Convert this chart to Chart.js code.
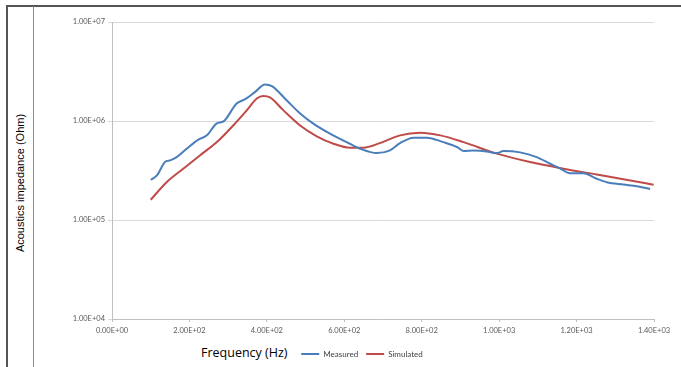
<!DOCTYPE html>
<html>
<head>
<meta charset="utf-8">
<script src="https://cdn.jsdelivr.net/npm/chart.js@4"></script>
<style>
  html, body { margin:0; padding:0; background:#fff; }
  body { width:681px; height:367px; position:relative; overflow:hidden; }
  .frame-top { position:absolute; left:6px; top:5px; width:675px; height:0; border-top:2px solid #555; }
  .frame-left { position:absolute; left:6px; top:5px; width:0; height:362px; border-left:2px solid #555; }
  .frame-inner { position:absolute; left:33px; top:6px; width:0; height:361px; border-left:1px solid #888; }
  #yTitle { position:absolute; left:20px; top:183px; transform:translate(-50%,-50%) rotate(-90deg);
    font-family:"Liberation Sans", Arial, sans-serif; font-size:11px; color:#000; white-space:nowrap; }
  #xTitle { position:absolute; left:201px; top:344px; font-family:"Open Sans", sans-serif; font-size:12.5px; color:#000; }
  #wrap { position:absolute; left:34px; top:7px; width:647px; height:360px; }
</style>
</head>
<body>
<div class="frame-top"></div>
<div class="frame-left"></div>
<div class="frame-inner"></div>
<div id="yTitle">Acoustics impedance (Ohm)</div>
<div id="xTitle">Frequency (Hz)</div>
<div id="wrap"><canvas id="impChart"></canvas></div>
<script>
// Data
const seriesNames = ["Measured", "Simulated"];

const freqMeasured = [100,116,137,150,167,193,223,245,270,288,322,344,370,395,413,451,486,520,563,615,641,684,718,744,779,813,856,891,908,934,968,994,1011,1054,1097,1132,1158,1183,1218,1252,1278,1321,1356,1390];
const impMeasured  = [2.55e5,2.82e5,3.85e5,4.0e5,4.32e5,5.25e5,6.48e5,7.16e5,9.4e5,9.9e5,1.50e6,1.66e6,1.97e6,2.34e6,2.25e6,1.62e6,1.19e6,9.4e5,7.45e5,5.87e5,5.25e5,4.74e5,5.05e5,5.98e5,6.79e5,6.79e5,6.12e5,5.46e5,4.97e5,5.03e5,4.93e5,4.74e5,4.97e5,4.82e5,4.32e5,3.70e5,3.30e5,2.97e5,2.97e5,2.61e5,2.41e5,2.28e5,2.19e5,2.06e5];

const freqSimulated = [100,141,184,227,271,313,348,374,391,408,443,486,529,572,615,649,692,744,796,848,908,994,1080,1166,1252,1339,1399];
const impSimulated  = [1.60e5,2.41e5,3.30e5,4.49e5,6.12e5,9.0e5,1.28e6,1.69e6,1.79e6,1.73e6,1.28e6,9.0e5,7.0e5,5.9e5,5.37e5,5.37e5,5.98e5,7.16e5,7.62e5,7.16e5,6.12e5,4.68e5,3.85e5,3.30e5,2.88e5,2.51e5,2.27e5];

const xTicks = [0,200,400,600,800,1000,1200,1400];
const yTicks = [1e4,1e5,1e6,1e7];

const colors = ["#4a7ebb", "#be4b48"];

// Excel style scientific label, e.g. 1.00E+07
function sci(v){
  if (v === 0) return "0.00E+00";
  const [m, e] = v.toExponential(2).toUpperCase().split("E");
  const n = parseInt(e, 10);
  return m + "E" + (n < 0 ? "-" : "+") + String(Math.abs(n)).padStart(2, "0");
}

const toPoints = (xs, ys) => xs.map((x, i) => ({x:x, y:ys[i]}));

const tickFont = { family:"Lato, 'Open Sans', sans-serif", size:7.5 };

// legend sits beside the axis title, a bit right of centre
const legendShift = {
  id:'legendShift',
  afterLayout(chart){
    const l = chart.legend;
    l.left += 18; l.right += 18;
    l.top += 3; l.bottom += 3;
  }
};

new Chart(document.getElementById("impChart"), {
  type:'line',
  data:{
    datasets:[
      { label:seriesNames[0], data:toPoints(freqMeasured, impMeasured), borderColor:colors[0], backgroundColor:colors[0],
        borderWidth:2, pointRadius:0, fill:false, cubicInterpolationMode:'monotone' },
      { label:seriesNames[1], data:toPoints(freqSimulated, impSimulated), borderColor:colors[1], backgroundColor:colors[1],
        borderWidth:2, pointRadius:0, fill:false, cubicInterpolationMode:'monotone' }
    ]
  },
  options:{
    responsive:true,
    maintainAspectRatio:false,
    animation:false,
    layout:{ padding:{ top:15, right:27, left:0, bottom:2 } },
    scales:{
      x:{
        type:'linear', min:0, max:1400,
        afterBuildTicks: s => { s.ticks = xTicks.map(v => ({value:v})); },
        ticks:{ callback: v => sci(v), font:tickFont, color:'#595959', maxRotation:0, padding:4 },
        grid:{ drawOnChartArea:false, tickLength:3, color:'#bfbfbf' },
        border:{ color:'#bfbfbf' }
      },
      y:{
        type:'logarithmic', min:1e4, max:1e7,
        afterBuildTicks: s => { s.ticks = yTicks.map(v => ({value:v})); },
        afterFit: s => { s.width = 78; },
        ticks:{ callback: v => sci(v), font:tickFont, color:'#595959', padding:3 },
        grid:{ color:'#d9d9d9', tickLength:4 },
        border:{ color:'#bfbfbf' }
      }
    },
    plugins:{
      legend:{
        position:'bottom',
        labels:{
          boxWidth:18, boxHeight:2, padding:8,
          font:{ family:"Lato, 'Open Sans', sans-serif", size:8 }, color:'#404040',
          generateLabels: chart => chart.data.datasets.map((d, i) => ({
            text:d.label, fillStyle:d.borderColor, strokeStyle:d.borderColor, lineWidth:0,
            hidden:false, datasetIndex:i, fontColor:'#404040'
          }))
        }
      },
      tooltip:{ enabled:false }
    }
  },
  plugins:[legendShift]
});
</script>
</body>
</html>
